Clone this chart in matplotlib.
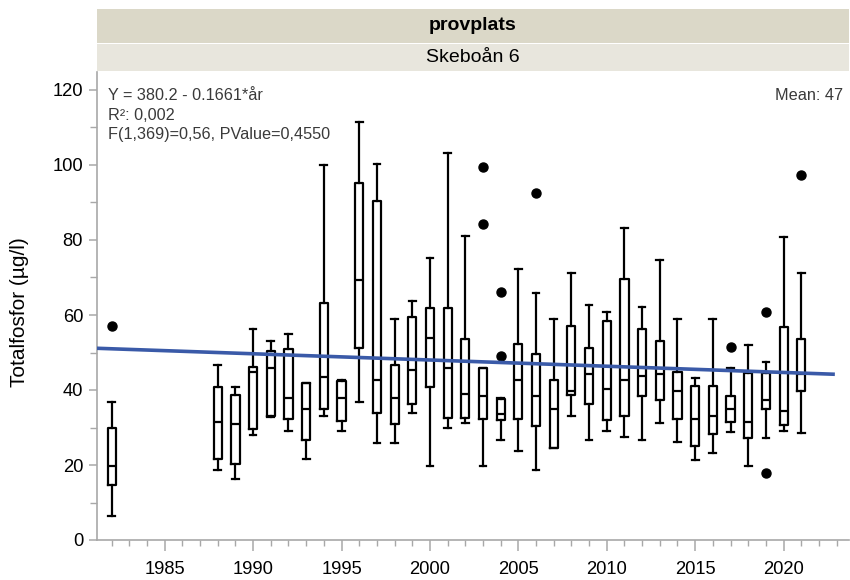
import matplotlib
matplotlib.use("Agg")
import matplotlib.pyplot as plt
from matplotlib.patches import Rectangle
from matplotlib.ticker import MultipleLocator

plt.rcParams['font.family'] = ['Liberation Sans', 'DejaVu Sans']

# ---- data ----
years = [1982, 1988, 1989, 1990, 1991, 1992, 1993, 1994, 1995, 1996, 1997, 1998,
         1999, 2000, 2001, 2002, 2003, 2004, 2005, 2006, 2007, 2008, 2009, 2010,
         2011, 2012, 2013, 2014, 2015, 2016, 2017, 2018, 2019, 2020, 2021]
whislo = [6.5, 18.7, 16.3, 28.1, 32.9, 29.1, 21.7, 33.1, 29.1, 36.9, 25.8, 25.8,
          34.0, 19.8, 30.0, 31.1, 19.8, 26.7, 23.7, 18.8, 24.6, 33.1, 26.7, 29.1,
          27.6, 26.7, 31.1, 26.2, 21.3, 23.3, 28.7, 19.8, 27.1, 29.2, 28.6]
q1 = [14.8, 21.7, 20.2, 29.5, 33.2, 32.2, 26.6, 35.0, 31.8, 51.1, 34.0, 31.0,
      36.4, 40.9, 32.6, 32.6, 32.4, 32.0, 32.4, 30.5, 24.6, 38.8, 36.4, 32.0,
      33.1, 38.4, 37.3, 32.4, 25.1, 28.2, 31.6, 27.1, 34.9, 30.7, 39.8]
med = [19.8, 31.5, 30.9, 44.9, 45.8, 37.9, 34.9, 43.4, 37.8, 69.3, 42.8, 37.9,
       45.3, 54.0, 45.9, 38.9, 38.4, 33.6, 42.8, 38.5, 34.9, 39.7, 44.3, 40.3,
       42.8, 43.8, 44.3, 39.8, 32.4, 33.1, 34.9, 31.6, 37.3, 34.4, 44.3]
q3 = [30.0, 40.7, 38.8, 46.2, 50.5, 51.0, 41.8, 63.3, 42.4, 95.3, 90.4, 46.7,
      59.4, 61.8, 61.8, 53.5, 45.8, 37.7, 52.4, 49.6, 42.8, 57.1, 51.1, 58.5,
      69.6, 56.4, 53.2, 44.7, 41.2, 41.2, 38.4, 44.6, 44.6, 56.9, 53.5]
whishi = [36.9, 46.7, 40.7, 56.4, 53.1, 55.0, 41.8, 100.1, 42.7, 111.4, 100.2, 58.9,
          63.8, 75.1, 103.1, 81.1, 45.8, 38.0, 72.2, 66.0, 58.9, 71.1, 62.8, 60.9,
          83.1, 62.2, 74.7, 58.9, 43.3, 58.9, 46.0, 52.0, 47.6, 80.9, 71.1]
outliers = {1982: [57.1], 2003: [99.4, 84.3], 2004: [66.2, 49.2], 2006: [92.4],
            2017: [51.6], 2019: [60.9, 18.0], 2021: [97.3]}

fit_intercept = 380.2
fit_slope = -0.1661
fit_range = [1981.17, 2022.9]

header_top = "provplats"
header_sub = "Skeboån 6"
y_label = "Totalfosfor (µg/l)"
stats_lines = ["Y = 380.2 - 0.1661*år", "R²: 0,002", "F(1,369)=0,56, PValue=0,4550"]
mean_text = "Mean: 47"

# ---- figure ----
W, H = 850, 580
fig = plt.figure(figsize=(W / 100, H / 100), dpi=100)
ax = fig.add_axes([97 / W, (H - 540) / H, (849 - 97) / W, (540 - 72) / H])

stats = []
for i, yr in enumerate(years):
    stats.append(dict(med=med[i], q1=q1[i], q3=q3[i], whislo=whislo[i],
                      whishi=whishi[i], fliers=outliers.get(yr, [])))

lw = 1.6
ax.bxp(stats, positions=years, widths=0.46, capwidths=0.38, manage_ticks=False,
       boxprops=dict(color='black', linewidth=lw),
       medianprops=dict(color='black', linewidth=lw),
       whiskerprops=dict(color='black', linewidth=lw),
       capprops=dict(color='black', linewidth=lw),
       flierprops=dict(marker='o', markerfacecolor='black', markeredgecolor='black',
                       markersize=6.5, linestyle='none'))

fx = fit_range
fy = [fit_intercept + fit_slope * v for v in fx]
ax.plot(fx, fy, color='#3a5aa8', linewidth=2.6, solid_capstyle='butt', zorder=5)

ax.set_xlim(1981.17, 2023.7)
ax.set_ylim(0, 124.8)

ax.xaxis.set_major_locator(MultipleLocator(5))
ax.xaxis.set_minor_locator(MultipleLocator(1))
ax.yaxis.set_major_locator(MultipleLocator(20))
ax.yaxis.set_minor_locator(MultipleLocator(10))

for side in ['top', 'right']:
    ax.spines[side].set_visible(False)
for side in ['left', 'bottom']:
    ax.spines[side].set_color('#a8a8a8')
    ax.spines[side].set_linewidth(1.2)

ax.tick_params(axis='both', which='major', color='#a8a8a8', width=1.1,
               labelsize=13.2, labelcolor='black', direction='out')
ax.tick_params(axis='x', which='major', length=8, pad=7)
ax.tick_params(axis='x', which='minor', length=4, color='#a8a8a8', width=1.0)
ax.tick_params(axis='y', which='major', length=6, pad=4)
ax.tick_params(axis='y', which='minor', length=5, color='#a8a8a8', width=1.0)

fig.text(20 / W, (H - 312) / H, y_label, fontsize=15, rotation=90,
         ha='center', va='center', color='black')

# stats text
for i, s in enumerate(stats_lines):
    fig.text(108 / W, (H - 96 - 19 * i) / H, s, fontsize=11.7, color='#3a3a3a',
             ha='left', va='center')
fig.text(843 / W, (H - 96) / H, mean_text, fontsize=11.7, color='#3a3a3a',
         ha='right', va='center')

# header bands
fig.patches.append(Rectangle((97 / W, (H - 43) / H), (849 - 97) / W, 34 / H,
                             transform=fig.transFigure, facecolor='#dbd8c8',
                             edgecolor='none', zorder=0))
fig.patches.append(Rectangle((97 / W, (H - 71) / H), (849 - 97) / W, 27 / H,
                             transform=fig.transFigure, facecolor='#e8e6dd',
                             edgecolor='none', zorder=0))
fig.text((97 + 849) / 2 / W, (H - 26) / H, header_top, fontsize=14,
         fontweight='bold', ha='center', va='center', color='black')
fig.text((97 + 849) / 2 / W, (H - 57) / H, header_sub, fontsize=14,
         ha='center', va='center', color='black')

fig.savefig("out.png", dpi=100)
